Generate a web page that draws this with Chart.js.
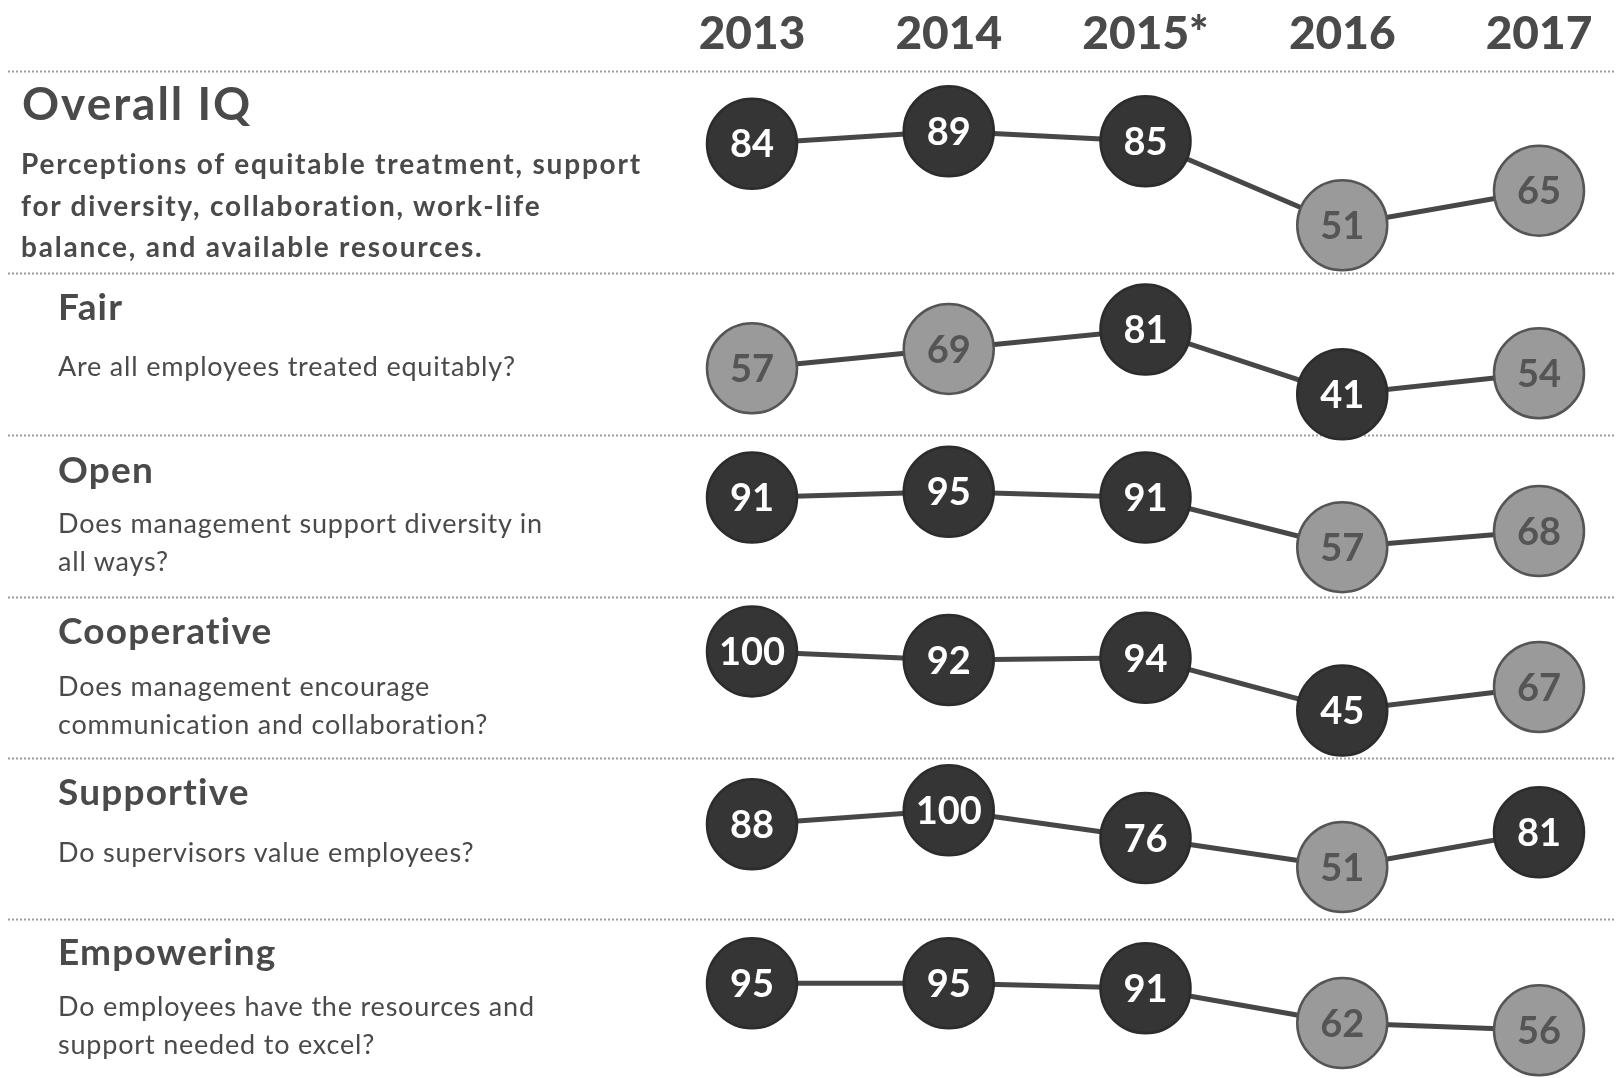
<!DOCTYPE html>
<html>
<head>
<meta charset="utf-8">
<title>Inclusion Quotient by year</title>
<script src="https://cdn.jsdelivr.net/npm/chart.js@4/dist/chart.umd.min.js"></script>
<style>
  html, body { margin: 0; padding: 0; background: #ffffff; }
  #wrap { position: relative; width: 1616px; height: 1078px; overflow: hidden; }
  #chart { position: absolute; left: 0; top: 0; }
  .txt { position: absolute; color: #4a4a4a; font-family: Lato, "Noto Sans", sans-serif; white-space: nowrap; }
  .main { left: 22px; font-weight: 700; font-size: 46px; line-height: 1; letter-spacing: 2px; }
  .sub { left: 21px; font-weight: 700; font-size: 28px; line-height: 41.7px; letter-spacing: 1.8px; }
  .name { left: 58px; font-weight: 700; font-size: 37px; line-height: 1; letter-spacing: 1.2px; }
  .desc { left: 58px; font-weight: 400; font-size: 27px; line-height: 38.2px; letter-spacing: 0.8px; }
</style>
</head>
<body>
<div id="wrap">
  <canvas id="chart" width="1616" height="1078"></canvas>
  <div class="txt main" style="top:80px">Overall IQ</div>
  <div class="txt sub" style="top:143px">Perceptions of equitable treatment, support<br>for diversity, collaboration, work-life<br>balance, and available resources.</div>

  <div class="txt name" style="top:287px">Fair</div>
  <div class="txt desc" style="top:347px">Are all employees treated equitably?</div>

  <div class="txt name" style="top:450px">Open</div>
  <div class="txt desc" style="top:504px">Does management support diversity in<br>all ways?</div>

  <div class="txt name" style="top:611px">Cooperative</div>
  <div class="txt desc" style="top:667px">Does management encourage<br>communication and collaboration?</div>

  <div class="txt name" style="top:772px">Supportive</div>
  <div class="txt desc" style="top:833px">Do supervisors value employees?</div>

  <div class="txt name" style="top:932px">Empowering</div>
  <div class="txt desc" style="top:987px">Do employees have the resources and<br>support needed to excel?</div>
</div>
<script>
// Survey years (column headers)
const years = ['2013', '2014', '2015*', '2016', '2017'];

// Index scores per dimension, one value per year
const overallIQ   = [84, 89, 85, 51, 65];
const fair        = [57, 69, 81, 41, 54];
const open        = [91, 95, 91, 57, 68];
const cooperative = [100, 92, 94, 45, 67];
const supportive  = [88, 100, 76, 51, 81];
const empowering  = [95, 95, 91, 62, 56];

// Marker tone per score: 1 = dark marker, 0 = light marker
const overallShade     = [1, 1, 1, 0, 0];
const fairShade        = [0, 0, 1, 1, 0];
const openShade        = [1, 1, 1, 0, 0];
const cooperativeShade = [1, 1, 1, 1, 0];
const supportiveShade  = [1, 1, 1, 0, 1];
const empoweringShade  = [1, 1, 1, 0, 0];

const rowNames  = ['Overall IQ', 'Fair', 'Open', 'Cooperative', 'Supportive', 'Empowering'];
const rowValues = [overallIQ, fair, open, cooperative, supportive, empowering];
const rowShades = [overallShade, fairShade, openShade, cooperativeShade, supportiveShade, empoweringShade];

// Each row has its own value axis; these are the axis bounds and band heights
const rowAxisMin = [31.7, 15.8, 22.8, 1.0, 6.0, 16.2];
const rowAxisMax = [113.4, 115.9, 133.9, 150.5, 145.3, 148.6];
const rowBandHeight = [202, 162, 162, 161, 161, 159];

const DARK = '#353535';
const LIGHT = '#9a9a9a';
const LIGHT_EDGE = '#555555';
const LINE = '#474747';

const datasets = rowValues.map((vals, i) => ({
  label: rowNames[i],
  data: vals,
  shade: rowShades[i],
  yAxisID: 'y' + i,
  xAxisID: 'x',
  borderColor: LINE,
  borderWidth: 5,
  pointRadius: 45,
  pointBorderWidth: 2.5,
  pointBackgroundColor: rowShades[i].map(s => s ? DARK : LIGHT),
  pointBorderColor: rowShades[i].map(s => s ? '#2c2c2c' : LIGHT_EDGE),
  tension: 0,
  clip: false
}));

const scales = {
  x: {
    type: 'category',
    position: 'top',
    offset: false,
    grid: { display: false, drawTicks: false },
    border: { display: false },
    ticks: {
      color: '#4a4a4a',
      font: { family: 'Lato', weight: '900', size: 46 },
      padding: 9,
      autoSkip: false,
      maxRotation: 0
    },
    afterFit(axis) { axis.height = 71; }
  }
};
rowValues.forEach((_, i) => {
  scales['y' + i] = {
    type: 'linear',
    position: 'left',
    stack: 'rows',
    stackWeight: rowBandHeight[i],
    weight: 10 - i,
    min: rowAxisMin[i],
    max: rowAxisMax[i],
    grid: { display: false, drawTicks: false },
    border: { display: false },
    ticks: { display: false }
  };
});

// Dotted rule above each row band
const rowRules = {
  id: 'rowRules',
  beforeDatasetsDraw(chart) {
    const ctx = chart.ctx;
    ctx.save();
    ctx.strokeStyle = '#9c9c9c';
    ctx.lineWidth = 2;
    ctx.setLineDash([2, 2]);
    rowValues.forEach((_, i) => {
      const s = chart.scales['y' + i];
      const y = Math.round(s.top) + 0.5;
      ctx.beginPath();
      ctx.moveTo(8, y);
      ctx.lineTo(chart.width, y);
      ctx.stroke();
    });
    ctx.restore();
  }
};

// Score printed inside each marker
const scoreLabels = {
  id: 'scoreLabels',
  afterDatasetsDraw(chart) {
    const ctx = chart.ctx;
    const size = 38;
    chart.data.datasets.forEach((ds, di) => {
      const meta = chart.getDatasetMeta(di);
      meta.data.forEach((pt, i) => {
        ctx.save();
        ctx.font = '700 ' + size + 'px Lato';
        ctx.fillStyle = ds.shade[i] ? '#ffffff' : '#555555';
        ctx.textAlign = 'center';
        ctx.textBaseline = 'alphabetic';
        ctx.fillText(String(ds.data[i]), pt.x, pt.y + size * 0.36);
        ctx.restore();
      });
    });
  }
};

new Chart(document.getElementById('chart'), {
  type: 'line',
  data: { labels: years, datasets },
  options: {
    responsive: false,
    animation: false,
    devicePixelRatio: 1,
    events: [],
    layout: { autoPadding: false, padding: { left: 752, right: 77, top: 0, bottom: 0 } },
    plugins: { legend: { display: false }, tooltip: { enabled: false } },
    scales
  },
  plugins: [rowRules, scoreLabels]
});
</script>
</body>
</html>
